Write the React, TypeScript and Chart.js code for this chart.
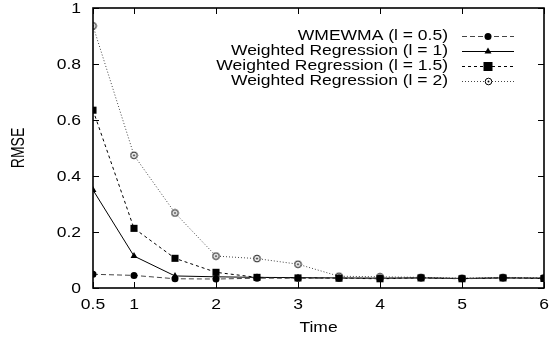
import React, { useEffect, useRef } from "react";
import { Chart, registerables } from "chart.js";

Chart.register(...registerables);

const times = [0.5, 1, 1.5, 2, 2.5, 3, 3.5, 4, 4.5, 5, 5.5, 6];
const wmewma = [0.049, 0.045, 0.033, 0.032, 0.035, 0.035, 0.035, 0.035, 0.036, 0.034, 0.036, 0.035];
const wr1 = [0.35, 0.114, 0.043, 0.04, 0.038, 0.037, 0.036, 0.035, 0.036, 0.034, 0.036, 0.035];
const wr15 = [0.635, 0.213, 0.106, 0.056, 0.038, 0.036, 0.035, 0.033, 0.036, 0.033, 0.036, 0.034];
const wr2 = [0.936, 0.474, 0.268, 0.114, 0.105, 0.085, 0.042, 0.04, 0.038, 0.035, 0.038, 0.036];
const seriesLabels = [
  "WMEWMA (l = 0.5)",
  "Weighted Regression (l = 1)",
  "Weighted Regression (l = 1.5)",
  "Weighted Regression (l = 2)",
];
const xTicks = [0.5, 1, 2, 3, 4, 5, 6];
const yTicks = [0, 0.2, 0.4, 0.6, 0.8, 1];
const xTitle = "Time";
const yTitle = "RMSE";

const FONT = "14px 'Liberation Sans', Arial, Helvetica, sans-serif";
const SX = 1.25;

function drawText(ctx: CanvasRenderingContext2D, text: string, x: number, y: number, align: CanvasTextAlign) {
  ctx.save();
  ctx.translate(x, y);
  ctx.scale(SX, 1);
  ctx.textAlign = align;
  ctx.textBaseline = "middle";
  ctx.fillText(text, 0, 0);
  ctx.restore();
}

function makeRingImage(): HTMLCanvasElement {
  const c = document.createElement("canvas");
  c.width = 9;
  c.height = 9;
  const g = c.getContext("2d")!;
  g.fillStyle = "#fff";
  g.strokeStyle = "#000";
  g.lineWidth = 1;
  g.beginPath();
  g.arc(4.5, 4.5, 3.3, 0, Math.PI * 2);
  g.fill();
  g.stroke();
  g.fillStyle = "#000";
  g.beginPath();
  g.arc(4.5, 4.5, 1, 0, Math.PI * 2);
  g.fill();
  return c;
}

function drawMarker(ctx: CanvasRenderingContext2D, ds: any, x: number, y: number) {
  ctx.save();
  ctx.setLineDash([]);
  const st = ds.pointStyle;
  const r = ds.pointRadius;
  ctx.fillStyle = ds.pointBackgroundColor;
  ctx.beginPath();
  if (st instanceof HTMLCanvasElement) {
    ctx.drawImage(st, Math.round(x - st.width / 2), Math.round(y - st.height / 2));
  } else if (st === "rect") {
    ctx.rect(x - r * 0.9, y - r * 0.9, 1.8 * r, 1.8 * r);
    ctx.fill();
  } else if (st === "triangle") {
    ctx.moveTo(x, y - r);
    ctx.lineTo(x + r * 0.87, y + r * 0.5);
    ctx.lineTo(x - r * 0.87, y + r * 0.5);
    ctx.closePath();
    ctx.fill();
  } else {
    ctx.arc(x, y, r, 0, Math.PI * 2);
    ctx.fill();
  }
  ctx.restore();
}

const framePlugin = {
  id: "gnuframe",
  afterDraw(chart: any) {
    const ctx = chart.ctx as CanvasRenderingContext2D;
    const { left, right, top, bottom } = chart.chartArea;
    const xs = chart.scales.x;
    const ys = chart.scales.y;
    ctx.save();
    ctx.strokeStyle = "#000";
    ctx.lineWidth = 1.6;
    ctx.setLineDash([]);
    ctx.strokeRect(left, top, right - left, bottom - top);
    ctx.lineWidth = 1;
    const tl = 6;
    ctx.beginPath();
    xTicks.forEach((v) => {
      const px = Math.round(xs.getPixelForValue(v)) + 0.5;
      ctx.moveTo(px, bottom);
      ctx.lineTo(px, bottom - tl);
      ctx.moveTo(px, top);
      ctx.lineTo(px, top + tl);
    });
    yTicks.forEach((v) => {
      const py = Math.round(ys.getPixelForValue(v)) + 0.5;
      ctx.moveTo(left, py);
      ctx.lineTo(left + tl, py);
      ctx.moveTo(right, py);
      ctx.lineTo(right - tl, py);
    });
    ctx.stroke();

    ctx.fillStyle = "#000";
    ctx.font = FONT;
    xTicks.forEach((v) => {
      drawText(ctx, String(v), xs.getPixelForValue(v), 305, "center");
    });
    yTicks.forEach((v) => {
      drawText(ctx, String(v), 81, ys.getPixelForValue(v) + 1.5, "right");
    });
    drawText(ctx, xTitle, (left + right) / 2, 328, "center");
    ctx.save();
    ctx.translate(19, (top + bottom) / 2);
    ctx.scale(SX, 1);
    ctx.rotate(-Math.PI / 2);
    ctx.textAlign = "center";
    ctx.textBaseline = "middle";
    ctx.fillText(yTitle, 0, 0);
    ctx.restore();

    // legend
    const rows = [36, 51, 66, 81];
    chart.data.datasets.forEach((ds: any, i: number) => {
      const y = rows[i];
      ctx.fillStyle = "#000";
      drawText(ctx, ds.label, 448, y, "right");
      ctx.save();
      ctx.strokeStyle = ds.borderColor;
      ctx.lineWidth = ds.borderWidth;
      ctx.setLineDash(ds.borderDash || []);
      ctx.beginPath();
      ctx.moveTo(462, y + 0.5);
      ctx.lineTo(514, y + 0.5);
      ctx.stroke();
      ctx.restore();
      drawMarker(ctx, ds, 488, y + 0.5);
    });
    ctx.restore();
  },
};

export default function App() {
  const ref = useRef<HTMLCanvasElement | null>(null);
  useEffect(() => {
    if (!ref.current) return;
    const ring = makeRingImage();
    const mk = (label: string, data: number[], color: string, dash: number[], style: any, radius: number, fill: string) => ({
      label,
      data: data.map((v, i) => ({ x: times[i], y: v })),
      borderColor: color,
      borderWidth: 1,
      borderDash: dash,
      pointStyle: style,
      pointRadius: radius,
      pointBackgroundColor: fill,
      pointBorderColor: fill,
      pointBorderWidth: 0,
      tension: 0,
    });
    const chart = new Chart(ref.current, {
      type: "line",
      data: {
        datasets: [
          mk(seriesLabels[0], wmewma, "#444", [5, 3], "circle", 3.5, "#000"),
          mk(seriesLabels[1], wr1, "#000", [], "triangle", 4, "#000"),
          mk(seriesLabels[2], wr15, "#000", [3, 3], "rect", 5, "#000"),
          mk(seriesLabels[3], wr2, "#444", [1, 2], ring, 4, "#fff"),
        ] as any,
      },
      options: {
        animation: false,
        responsive: false,
        maintainAspectRatio: false,
        layout: { padding: { top: 8, right: 7, left: 0, bottom: 0 } },
        plugins: { legend: { display: false }, tooltip: { enabled: false } },
        scales: {
          x: {
            type: "linear",
            min: 0.5,
            max: 6,
            afterFit: (s: any) => {
              s.height = 51;
            },
            afterBuildTicks: (s: any) => {
              s.ticks = xTicks.map((v) => ({ value: v }));
            },
            ticks: { display: false },
            grid: { display: false, drawTicks: false },
            border: { display: false },
          },
          y: {
            type: "linear",
            min: 0,
            max: 1,
            afterFit: (s: any) => {
              s.width = 93;
            },
            afterBuildTicks: (s: any) => {
              s.ticks = yTicks.map((v) => ({ value: v }));
            },
            ticks: { display: false },
            grid: { display: false, drawTicks: false },
            border: { display: false },
          },
        },
      } as any,
      plugins: [framePlugin],
    });
    return () => chart.destroy();
  }, []);
  return (
    <div style={{ position: "absolute", left: 0, top: 0, width: 551, height: 339, background: "#fff" }}>
      <canvas ref={ref} width={551} height={339} style={{ display: "block" }} />
    </div>
  );
}
